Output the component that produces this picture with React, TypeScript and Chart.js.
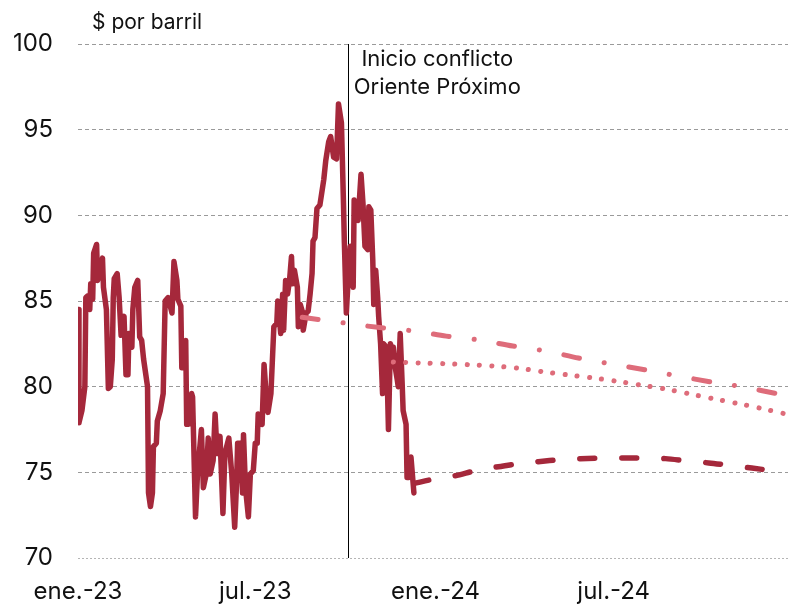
import React, { useEffect, useRef } from "react";
import { Chart, registerables } from "chart.js";

Chart.register(...registerables);

// Day offsets are days since 1 Jan 2023
const brentDays = [
  0, 1, 4, 7, 8, 10, 12, 13, 15, 16, 19, 20, 25, 26, 29, 31, 33, 35, 36, 37,
  40, 42, 44, 46, 47, 49, 51, 52, 55, 56, 58, 61, 63, 65, 67, 71, 72, 74, 76, 77,
  80, 81, 84, 87, 89, 92, 96, 98, 101, 102, 105, 106, 108, 110, 111, 113, 116, 117, 120, 122,
  126, 128, 131, 133, 135, 138, 140, 142, 145, 148, 150, 154, 157, 160, 162, 163, 166, 168, 169, 171,
  174, 176, 179, 181, 183, 184, 188, 190, 192, 194, 197, 200, 203, 204, 207, 209, 210, 212, 214, 216,
  218, 219, 221, 224, 225, 227, 229, 230, 233, 235, 237, 239, 240, 242, 244, 247, 251, 253, 256, 258,
  261, 264, 266, 269, 271, 272, 274, 276, 278, 281, 282, 285, 286, 289, 291, 293, 296, 297, 299, 301,
  302, 304, 306, 307, 309, 311, 312, 315, 317, 319, 321, 322, 324, 326, 327, 329, 331, 332, 335, 336,
  338, 340, 343,
];
const brentPrices = [
  84.5, 77.9, 78.6, 80.0, 85.2, 85.3, 84.5, 86.0, 85.1, 87.8, 88.3, 86.2, 87.5, 85.8, 84.5, 79.9, 80.0, 81.6, 85.2, 86.3,
  86.6, 85.2, 83.0, 83.9, 84.1, 80.7, 80.7, 83.1, 82.3, 84.5, 85.8, 86.2, 82.9, 82.7, 81.6, 80.0, 73.8, 73.0, 73.8, 76.5,
  76.7, 78.0, 78.6, 79.6, 85.0, 85.2, 84.3, 87.3, 86.2, 85.1, 84.7, 81.1, 81.1, 82.7, 77.8, 77.8, 79.6, 79.4, 72.4, 74.9,
  77.5, 74.1, 74.9, 77.0, 74.9, 75.7, 78.4, 76.1, 77.1, 72.6, 76.1, 77.0, 74.9, 71.8, 74.5, 76.7, 76.7, 73.8, 77.2, 74.1,
  72.4, 74.9, 75.1, 76.7, 76.7, 78.4, 77.8, 81.3, 79.6, 78.5, 79.6, 83.5, 83.7, 85.0, 83.1, 85.4, 83.3, 86.2, 85.4, 86.2,
  87.6, 86.0, 86.8, 85.8, 83.5, 84.8, 84.4, 83.3, 84.3, 84.4, 85.4, 86.6, 88.5, 88.7, 90.4, 90.6, 92.1, 93.2, 94.3, 94.6,
  93.4, 93.3, 96.5, 95.4, 90.9, 88.4, 84.3, 86.4, 88.2, 85.8, 90.9, 89.9, 89.7, 92.4, 90.7, 88.2, 88.0, 90.5, 90.3, 87.4,
  84.8, 86.8, 85.2, 84.1, 82.5, 79.6, 82.5, 82.3, 77.5, 82.5, 82.1, 82.3, 81.1, 80.4, 80.0, 83.1, 80.2, 78.6, 77.8, 74.7,
  74.7, 75.9, 73.8,
];

const futuresADays = [229, 274, 308, 343, 376, 410, 444, 478, 511, 545, 580, 613, 647, 680, 715, 725];
const futuresAPrices = [84.05, 83.7, 83.45, 83.25, 82.95, 82.72, 82.37, 82.08, 81.67, 81.32, 80.97, 80.62, 80.27, 79.98, 79.57, 79.45];

const futuresBDays = [322, 350, 375, 400, 425, 451, 475, 501, 527, 552, 577, 602, 627, 652, 677, 701, 725];
const futuresBPrices = [81.44, 81.38, 81.34, 81.28, 81.2, 81.07, 80.87, 80.68, 80.5, 80.3, 80.07, 79.84, 79.55, 79.26, 78.98, 78.69, 78.37];

const forecastDays = [343, 363, 385, 406, 426, 449, 470, 493, 513, 557, 600, 623, 644, 666, 688, 711, 725];
const forecastPrices = [74.35, 74.6, 74.8, 75.1, 75.3, 75.5, 75.62, 75.75, 75.8, 75.83, 75.8, 75.65, 75.55, 75.4, 75.25, 75.08, 74.97];

const xTickDays = [0, 181, 365, 547];
const xTickLabels = ["ene.-23", "jul.-23", "ene.-24", "jul.-24"];
const yMin = 70;
const yMax = 100;
const yStep = 5;
const xMaxDay = 725;

const conflictDay = 276;
const conflictLabel = ["Inicio conflicto", "Oriente Próximo"];
const unitLabel = "$ por barril";

const DARK = "#a5283b";
const PINK = "#de6c7a";
const FONT = "Inter, 'Liberation Sans', Arial, sans-serif";

const toPoints = (xs: number[], ys: number[]) => xs.map((x, i) => ({ x, y: ys[i] }));

const overlayPlugin = {
  id: "overlay",
  beforeDatasetsDraw(chart: any) {
    const { ctx, chartArea, scales } = chart;
    const x = Math.round(scales.x.getPixelForValue(conflictDay)) + 0.5;
    ctx.save();
    ctx.strokeStyle = "#000";
    ctx.lineWidth = 1;
    ctx.beginPath();
    ctx.moveTo(x, chartArea.top);
    ctx.lineTo(x, chartArea.bottom);
    ctx.stroke();
    ctx.restore();
  },
  afterDraw(chart: any) {
    const { ctx, chartArea, scales } = chart;
    const x = scales.x.getPixelForValue(conflictDay);
    ctx.save();
    ctx.fillStyle = "#111";
    ctx.textBaseline = "alphabetic";
    ctx.font = `22px ${FONT}`;
    ctx.textAlign = "center";
    ctx.fillText(conflictLabel[0], x + 89, chartArea.top + 22);
    ctx.fillText(conflictLabel[1], x + 89, chartArea.top + 50);
    ctx.font = `21px ${FONT}`;
    ctx.textAlign = "left";
    ctx.fillText(unitLabel, chartArea.left + 14, chartArea.top - 15);
    ctx.restore();
  },
};

export default function App() {
  const canvasRef = useRef<HTMLCanvasElement | null>(null);

  useEffect(() => {
    document.body.style.margin = "0";
    const canvas = canvasRef.current;
    if (!canvas) return;
    const chart = new Chart(canvas, {
      type: "line",
      data: {
        datasets: [
          {
            label: "Futuros A",
            data: toPoints(futuresADays, futuresAPrices),
            borderColor: PINK,
            borderWidth: 5,
            borderDash: [16, 25, 0.1, 25],
            borderCapStyle: "round",
            pointRadius: 0,
            tension: 0.3,
            order: 0,
          },
          {
            label: "Futuros B",
            data: toPoints(futuresBDays, futuresBPrices),
            borderColor: PINK,
            borderWidth: 5,
            borderDash: [0.1, 12.2],
            borderCapStyle: "round",
            pointRadius: 0,
            tension: 0.3,
            order: 1,
          },
          {
            label: "Previsión",
            data: toPoints(forecastDays, forecastPrices),
            borderColor: DARK,
            borderWidth: 5.5,
            borderDash: [15, 27],
            borderCapStyle: "round",
            pointRadius: 0,
            tension: 0.3,
            order: 2,
          },
          {
            label: "Brent",
            data: toPoints(brentDays, brentPrices),
            borderColor: DARK,
            borderWidth: 5.5,
            borderJoinStyle: "round",
            borderCapStyle: "round",
            pointRadius: 0,
            tension: 0,
            order: 3,
          },
        ],
      },
      options: {
        animation: false,
        responsive: false,
        layout: { padding: { top: 44, left: 0, right: 0, bottom: 0 } },
        plugins: {
          legend: { display: false },
          tooltip: { enabled: false },
          title: { display: false },
        },
        scales: {
          x: {
            type: "linear",
            min: 0,
            max: xMaxDay,
            grid: { display: false, drawTicks: false },
            border: { display: false },
            afterBuildTicks: (scale: any) => {
              scale.ticks = xTickDays.map((v) => ({ value: v }));
            },
            afterFit: (scale: any) => {
              scale.height = 48;
            },
            ticks: {
              autoSkip: false,
              maxRotation: 0,
              padding: 19,
              color: "#111",
              font: { family: FONT, size: 24 },
              callback: (value: any) => {
                const i = xTickDays.indexOf(Number(value));
                return i >= 0 ? xTickLabels[i] : "";
              },
            },
          },
          y: {
            type: "linear",
            min: yMin,
            max: yMax,
            afterFit: (scale: any) => {
              scale.width = 78;
            },
            grid: {
              drawTicks: false,
              lineWidth: 1,
              color: (c: any) => (c.tick && c.tick.value === yMin ? "#b5b5b5" : "#9a9a9a"),
            },
            border: {
              display: false,
              dash: (c: any) => (c.tick && c.tick.value === yMin ? [2, 2] : [4, 3]),
            },
            ticks: {
              stepSize: yStep,
              padding: 25,
              color: "#111",
              font: { family: FONT, size: 24 },
            },
          },
        },
      },
      plugins: [overlayPlugin],
    } as any);
    return () => chart.destroy();
  }, []);

  return (
    <div style={{ width: 788, height: 606 }}>
      <canvas ref={canvasRef} width={788} height={606} style={{ display: "block" }} />
    </div>
  );
}
